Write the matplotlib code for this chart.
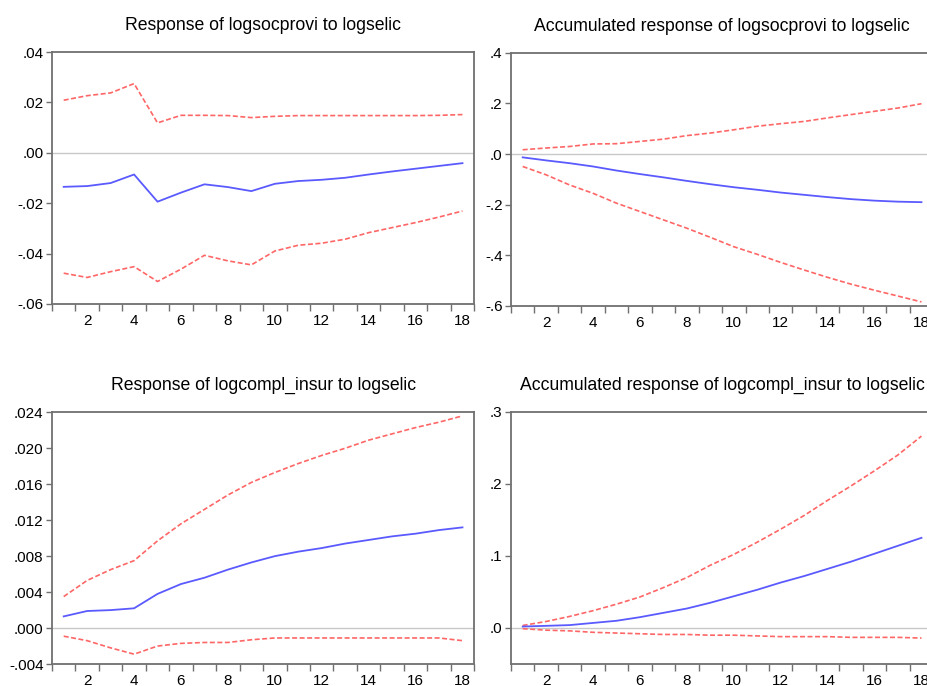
import numpy as np
import matplotlib.pyplot as plt
from matplotlib.ticker import FixedLocator

plt.rcParams['font.family'] = ['Liberation Sans', 'DejaVu Sans']

periods = np.arange(1, 19)

# Response of logsocprovi to logselic
soc_resp = [-0.0135, -0.0132, -0.0120, -0.0086, -0.0194, -0.0158, -0.0125, -0.0136, -0.0152,
            -0.0123, -0.0112, -0.0107, -0.0099, -0.0086, -0.0074, -0.0063, -0.0052, -0.0041]
soc_upper = [0.0209, 0.0227, 0.0238, 0.0275, 0.0119, 0.0149, 0.0149, 0.0148, 0.0140,
             0.0145, 0.0148, 0.0148, 0.0148, 0.0148, 0.0148, 0.0148, 0.0149, 0.0152]
soc_lower = [-0.0478, -0.0495, -0.0472, -0.0452, -0.0511, -0.0462, -0.0407, -0.0429, -0.0445,
             -0.0390, -0.0367, -0.0359, -0.0343, -0.0317, -0.0297, -0.0277, -0.0255, -0.0231]

# Accumulated response of logsocprovi to logselic
soc_acc = [-0.013, -0.025, -0.036, -0.049, -0.065, -0.079, -0.092, -0.106, -0.119,
           -0.131, -0.141, -0.152, -0.161, -0.170, -0.178, -0.184, -0.188, -0.190]
soc_acc_upper = [0.017, 0.024, 0.030, 0.040, 0.041, 0.050, 0.059, 0.073, 0.083,
                 0.096, 0.110, 0.120, 0.129, 0.143, 0.156, 0.169, 0.182, 0.199]
soc_acc_lower = [-0.049, -0.082, -0.122, -0.155, -0.194, -0.227, -0.260, -0.293, -0.329,
                 -0.366, -0.396, -0.428, -0.458, -0.487, -0.514, -0.538, -0.561, -0.584]

# Response of logcompl_insur to logselic
ins_resp = [0.0013, 0.0019, 0.0020, 0.0022, 0.0038, 0.0049, 0.0056, 0.0065, 0.0073,
            0.0080, 0.0085, 0.0089, 0.0094, 0.0098, 0.0102, 0.0105, 0.0109, 0.0112]
ins_upper = [0.0035, 0.0053, 0.0065, 0.0075, 0.0097, 0.0116, 0.0132, 0.0148, 0.0162,
             0.0173, 0.0183, 0.0192, 0.0200, 0.0209, 0.0216, 0.0223, 0.0229, 0.0236]
ins_lower = [-0.0009, -0.0014, -0.0022, -0.0029, -0.0020, -0.0017, -0.0016, -0.0016, -0.0013,
             -0.0011, -0.0011, -0.0011, -0.0011, -0.0011, -0.0011, -0.0011, -0.0011, -0.0014]

# Accumulated response of logcompl_insur to logselic
ins_acc = [0.002, 0.003, 0.004, 0.007, 0.010, 0.015, 0.021, 0.027, 0.035,
           0.044, 0.053, 0.063, 0.072, 0.082, 0.092, 0.103, 0.114, 0.125]
ins_acc_upper = [0.0035, 0.009, 0.016, 0.024, 0.033, 0.043, 0.056, 0.070, 0.087,
                 0.102, 0.119, 0.137, 0.156, 0.177, 0.197, 0.218, 0.240, 0.266]
ins_acc_lower = [-0.001, -0.003, -0.004, -0.006, -0.007, -0.008, -0.009, -0.009, -0.010,
                 -0.010, -0.011, -0.012, -0.012, -0.012, -0.013, -0.013, -0.013, -0.014]

titles = ['Response of logsocprovi to logselic',
          'Accumulated response of logsocprovi to logselic',
          'Response of logcompl_insur to logselic',
          'Accumulated response of logcompl_insur to logselic']

yticks = [[0.04, 0.02, 0.0, -0.02, -0.04, -0.06],
          [0.4, 0.2, 0.0, -0.2, -0.4, -0.6],
          [0.024, 0.020, 0.016, 0.012, 0.008, 0.004, 0.0, -0.004],
          [0.3, 0.2, 0.1, 0.0]]
ytick_labels = [['.04', '.02', '.00', '-.02', '-.04', '-.06'],
                ['.4', '.2', '.0', '-.2', '-.4', '-.6'],
                ['.024', '.020', '.016', '.012', '.008', '.004', '.000', '-.004'],
                ['.3', '.2', '.1', '.0']]
ylims = [(-0.06, 0.04), (-0.6, 0.4), (-0.004, 0.024), (-0.05, 0.3)]

series = [(soc_resp, soc_upper, soc_lower),
          (soc_acc, soc_acc_upper, soc_acc_lower),
          (ins_resp, ins_upper, ins_lower),
          (ins_acc, ins_acc_upper, ins_acc_lower)]

# panel rectangles in figure fractions
rects = [[0.056, 0.557, 0.455, 0.367],
         [0.5506, 0.554, 0.455, 0.369],
         [0.056, 0.032, 0.455, 0.367],
         [0.5506, 0.032, 0.455, 0.368]]

fig = plt.figure(figsize=(9.28, 6.86), dpi=100)

for i in range(4):
    ax = fig.add_axes(rects[i])
    resp, up, lo = series[i]
    ax.axhline(0, color='#c8c8c8', lw=1.0, zorder=1)
    ax.plot(periods, up, color='#ff6666', lw=1.2, ls=(0, (3, 1.5)), zorder=2)
    ax.plot(periods, lo, color='#ff6666', lw=1.2, ls=(0, (3, 1.5)), zorder=2)
    ax.plot(periods, resp, color='#5a5aff', lw=1.3, zorder=3)

    ax.set_xlim(0.5, 18.5)
    ax.set_ylim(*ylims[i])
    ax.set_xticks(np.arange(2, 19, 2))
    ax.set_xticklabels([str(k) for k in range(2, 19, 2)])
    ax.xaxis.set_minor_locator(FixedLocator(np.arange(0.5, 19, 1.0)))
    ax.tick_params(axis='x', which='major', length=0, pad=7, labelsize=11)
    ax.tick_params(axis='x', which='minor', length=5, width=1.0, color='#707070', direction='out')
    ax.set_yticks(yticks[i])
    ax.set_yticklabels(ytick_labels[i])
    ax.tick_params(axis='y', length=4, width=1.0, color='#707070', direction='out',
                   pad=2, labelsize=11)

    for s in ax.spines.values():
        s.set_color('#707070')
        s.set_linewidth(1.3)

    ax.set_title(titles[i], fontsize=12.7, pad=16)

fig.savefig('out.png', dpi=100)
